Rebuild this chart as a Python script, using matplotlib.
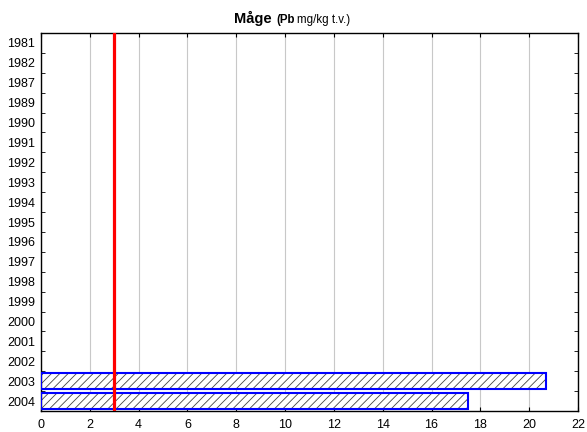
import numpy as np
import matplotlib
matplotlib.use("Agg")
from matplotlib import pyplot as plt
from matplotlib.patches import Rectangle

plt.rcParams['font.family'] = ['Liberation Sans', 'DejaVu Sans']
plt.rcParams['hatch.linewidth'] = 0.6

years = ['1981', '1982', '1987', '1989', '1990', '1991', '1992', '1993', '1994',
         '1995', '1996', '1997', '1998', '1999', '2000', '2001', '2002', '2003', '2004']
pb_values = [0, 0, 0, 0, 0, 0, 0, 0, 0, 0, 0, 0, 0, 0, 0, 0, 0, 20.7, 17.5]
limit = 3.0
x_ticks = np.arange(0, 23, 2)

fig = plt.figure(figsize=(5.87, 4.32), dpi=100)
ax = fig.add_axes([0.0698, 0.0486, 0.9149, 0.875])

pos = np.arange(len(years))
h = 0.8
for y, v in zip(pos, pb_values):
    if v <= 0:
        continue
    # hatched fill, then blue outline on top
    ax.add_patch(Rectangle((0, y - h / 2), v, h, facecolor='white', edgecolor='#444444',
                           hatch='////', linewidth=0, zorder=2))
    ax.add_patch(Rectangle((0, y - h / 2), v, h, fill=False, edgecolor='blue',
                           linewidth=1.5, zorder=3))

ax.axvline(limit, color='red', linewidth=2.3, zorder=4)

ax.set_xlim(0, 22)
ax.set_ylim(len(years) - 0.5, -0.5)
ax.set_xticks(x_ticks)
ax.set_yticks(pos)
ax.set_yticklabels(years)
ax.set_yticks(np.arange(-0.5, len(years) + 0.5, 1), minor=True)
ax.tick_params(axis='y', which='major', length=0, labelsize=9, pad=4)
ax.tick_params(axis='y', which='minor', direction='in', length=3, right=True, left=True)
ax.tick_params(axis='x', direction='in', length=3, top=True, labelsize=9, pad=6)
ax.grid(axis='x', color='#c8c8c8', linewidth=0.8, zorder=0)
ax.set_axisbelow(True)
for s in ax.spines.values():
    s.set_linewidth(1.0)

t1 = fig.text(0.399, 0.947, 'Måge', fontsize=10.5, fontweight='bold', va='baseline')
t2 = ax.annotate('(Pb', xy=(1, 0), xycoords=t1, xytext=(3, 0), textcoords='offset points',
                 fontsize=8.3, fontweight='bold', va='bottom')
ax.annotate('mg/kg t.v.)', xy=(1, 0), xycoords=t2, xytext=(2, 0), textcoords='offset points',
            fontsize=8.3, va='bottom')

fig.savefig('out.png', dpi=100)
